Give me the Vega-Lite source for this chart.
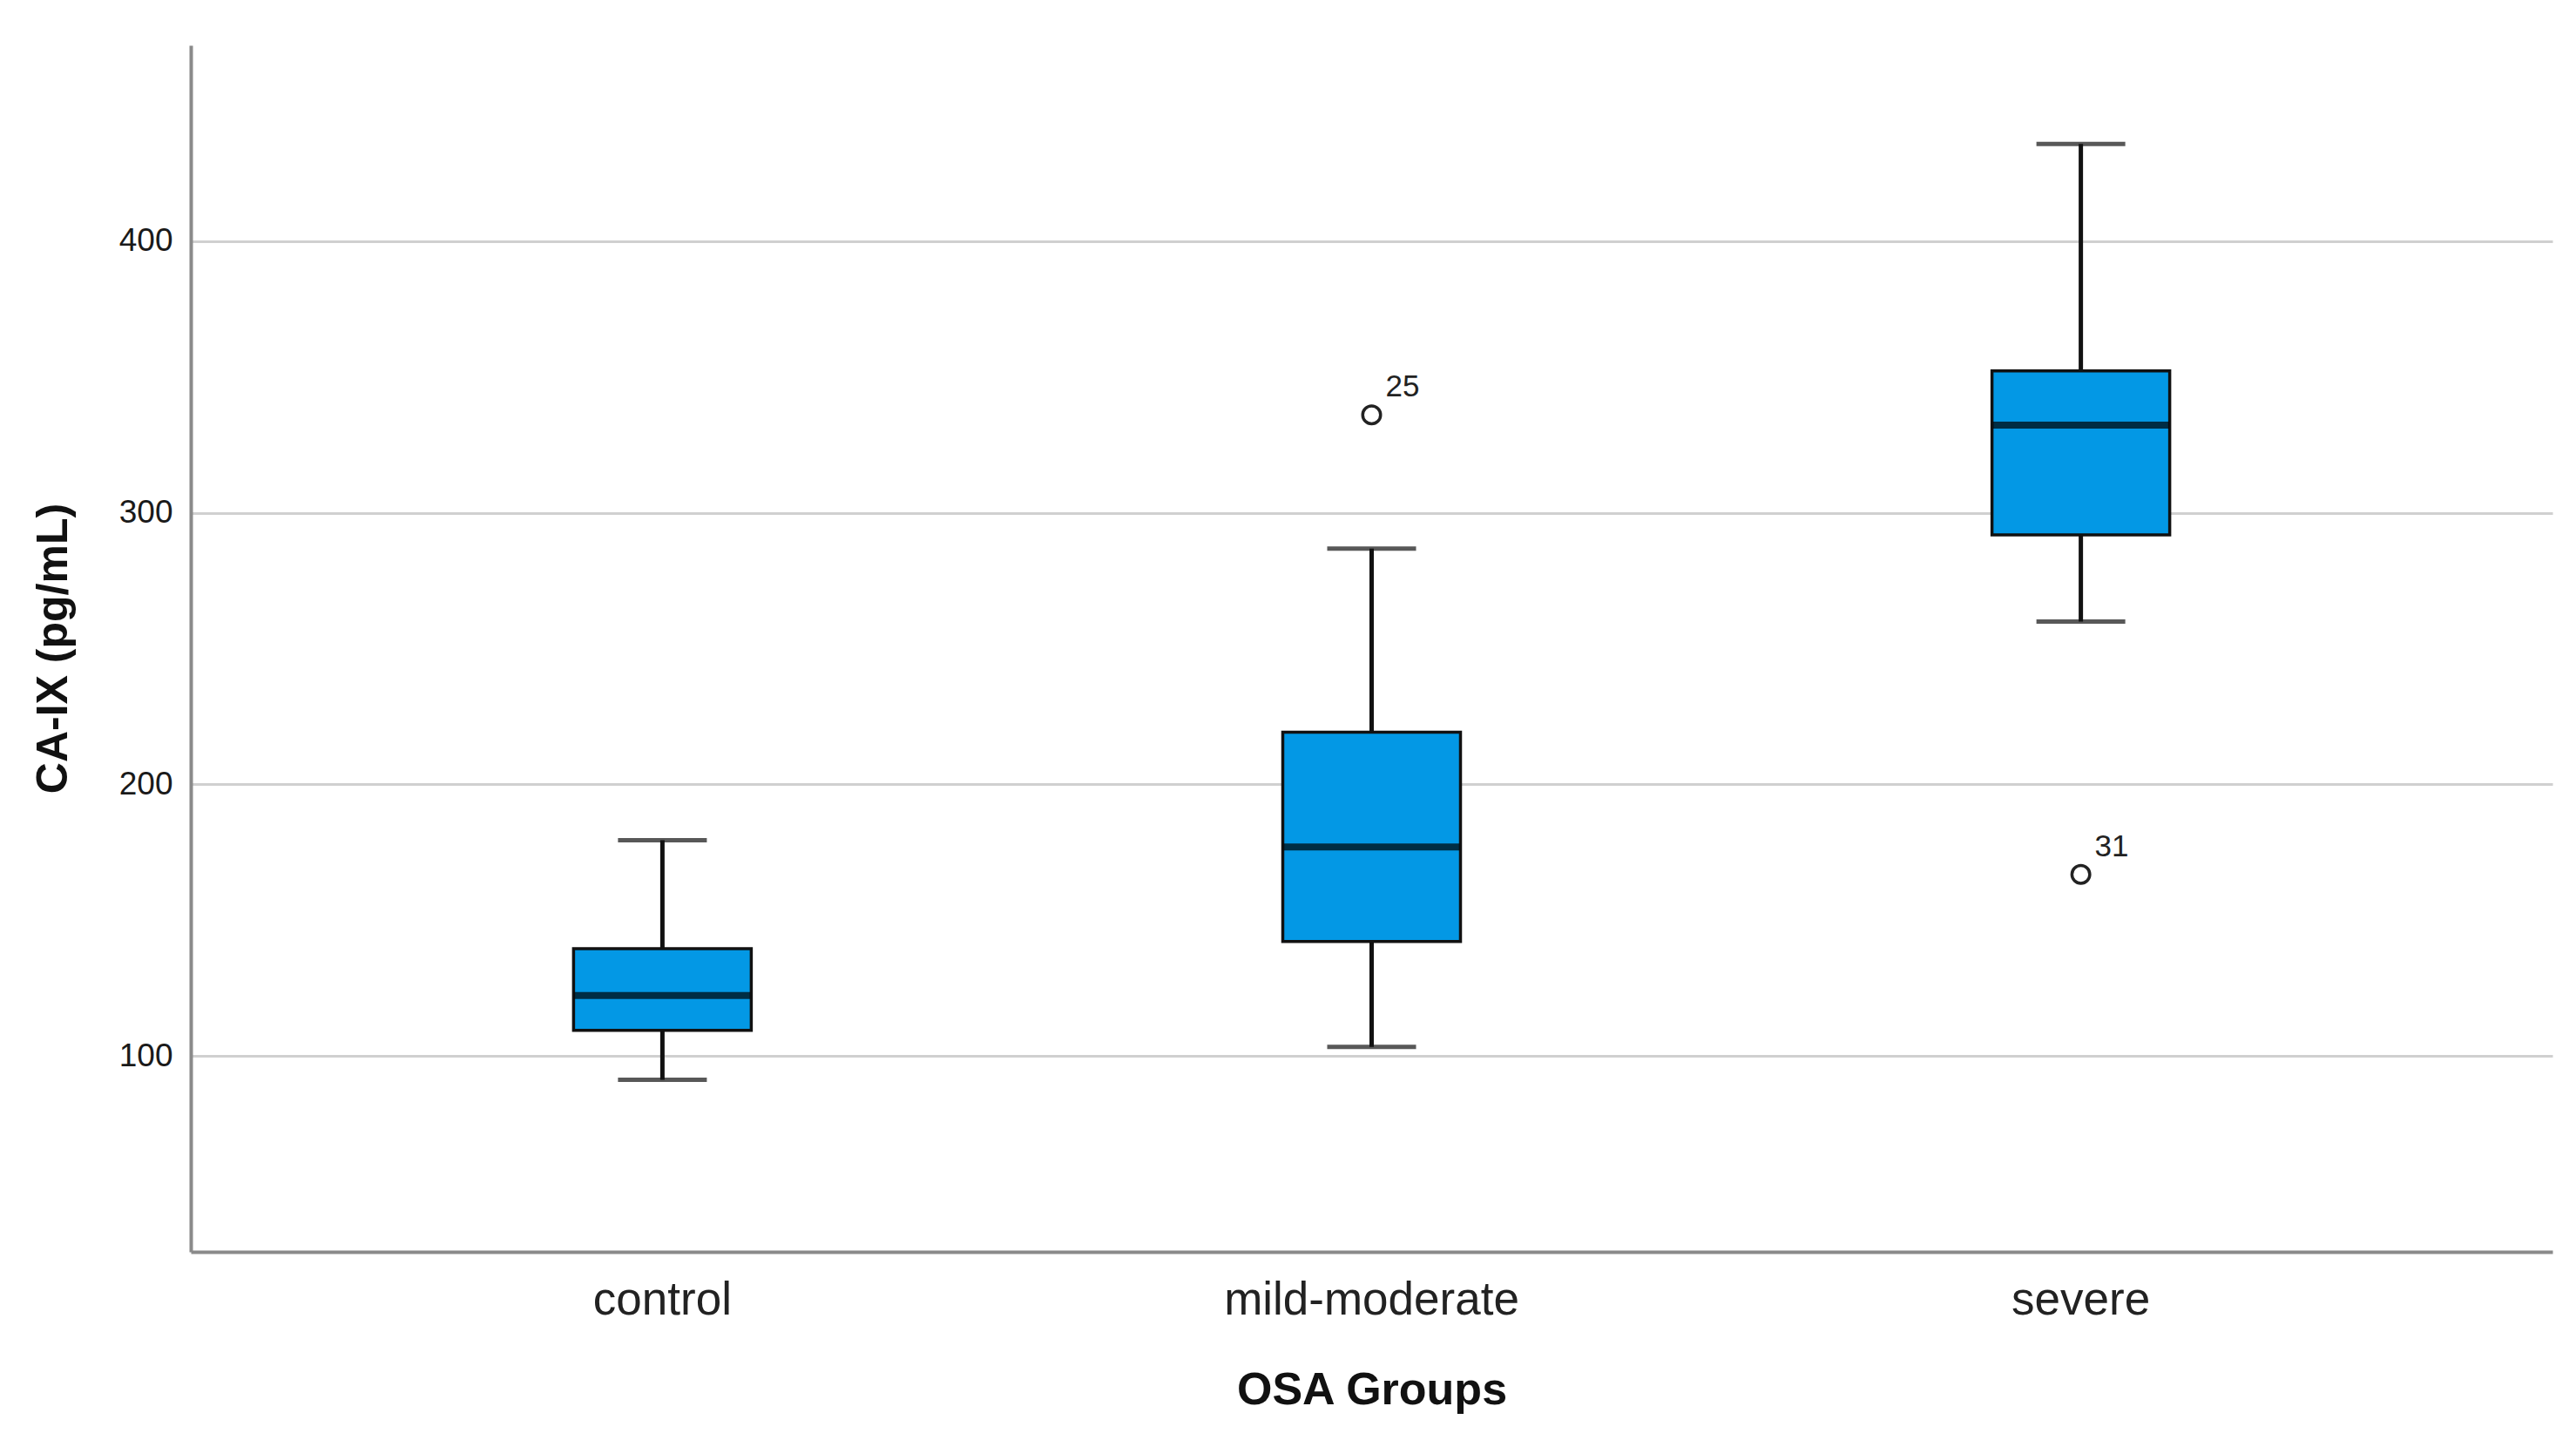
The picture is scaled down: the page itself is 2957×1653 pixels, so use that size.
{
  "$schema": "https://vega.github.io/schema/vega-lite/v6.json",
  "width": 2711,
  "height": 1385,
  "autosize": {"type": "none"},
  "padding": {"left": 219, "top": 52, "right": 27, "bottom": 216},
  "background": "white",
  "config": {
    "font": "Liberation Sans",
    "view": {"stroke": null}
  },
  "datasets": {
    "boxes": [
      {"group": "control", "lower": 91.3, "q1": 109.5, "median": 122.3, "q3": 139.6, "upper": 179.5},
      {"group": "mild-moderate", "lower": 103.4, "q1": 142.2, "median": 177.0, "q3": 219.2, "upper": 286.8},
      {"group": "severe", "lower": 259.9, "q1": 291.8, "median": 332.2, "q3": 352.2, "upper": 435.7}
    ],
    "outliers": [
      {"group": "mild-moderate", "value": 336.0, "label": "25"},
      {"group": "severe", "value": 166.9, "label": "31"}
    ]
  },
  "encoding": {
    "x": {
      "field": "group",
      "type": "nominal",
      "sort": ["control", "mild-moderate", "severe"],
      "scale": {"paddingInner": 0, "paddingOuter": 0.165},
      "axis": {
        "title": "OSA Groups",
        "titleFontSize": 52,
        "titleFontWeight": "bold",
        "titleColor": "#111111",
        "titleBaseline": "alphabetic",
        "titleY": 174,
        "labelAngle": 0,
        "labelFontSize": 53,
        "labelLimit": 0,
        "labelColor": "#222222",
        "labelPadding": 29,
        "ticks": false,
        "grid": false,
        "domainColor": "#8a8a8a",
        "domainWidth": 4
      }
    }
  },
  "layer": [
    {
      "data": {"name": "boxes"},
      "mark": {"type": "rule", "color": "#111111", "strokeWidth": 5},
      "encoding": {
        "y": {
          "field": "lower",
          "type": "quantitative",
          "scale": {"domain": [28, 472], "nice": false, "zero": false},
          "axis": {
            "title": "CA-IX (pg/mL)",
            "titleFontSize": 50,
            "titleFontWeight": "bold",
            "titleColor": "#111111",
            "titleX": -158,
            "titleY": 692,
            "titleBaseline": "middle",
            "titleAngle": -90,
            "values": [100, 200, 300, 400],
            "labelFontSize": 37,
            "labelColor": "#1a1a1a",
            "labelPadding": 21,
            "ticks": false,
            "grid": true,
            "gridColor": "#d0d0d0",
            "gridWidth": 3,
            "domainColor": "#8a8a8a",
            "domainWidth": 4
          }
        },
        "y2": {"field": "upper"}
      }
    },
    {
      "data": {"name": "boxes"},
      "mark": {"type": "bar", "size": 204, "color": "#0398E5", "stroke": "#111111", "strokeWidth": 3.5},
      "encoding": {
        "y": {"field": "q1", "type": "quantitative"},
        "y2": {"field": "q3"}
      }
    },
    {
      "data": {"name": "boxes"},
      "mark": {"type": "tick", "size": 202, "thickness": 8, "color": "#000000"},
      "encoding": {
        "y": {"field": "median", "type": "quantitative"}
      }
    },
    {
      "data": {"name": "boxes"},
      "mark": {"type": "tick", "size": 102, "thickness": 5, "color": "#111111"},
      "encoding": {
        "y": {"field": "lower", "type": "quantitative"}
      }
    },
    {
      "data": {"name": "boxes"},
      "mark": {"type": "tick", "size": 102, "thickness": 5, "color": "#111111"},
      "encoding": {
        "y": {"field": "upper", "type": "quantitative"}
      }
    },
    {
      "data": {"name": "outliers"},
      "mark": {"type": "point", "shape": "circle", "filled": false, "size": 420, "stroke": "#222222", "strokeWidth": 3.5, "opacity": 1},
      "encoding": {
        "y": {"field": "value", "type": "quantitative"}
      }
    },
    {
      "data": {"name": "outliers"},
      "mark": {"type": "text", "align": "left", "baseline": "alphabetic", "dx": 16, "dy": -21, "fontSize": 35, "color": "#222222"},
      "encoding": {
        "y": {"field": "value", "type": "quantitative"},
        "text": {"field": "label"}
      }
    }
  ]
}
